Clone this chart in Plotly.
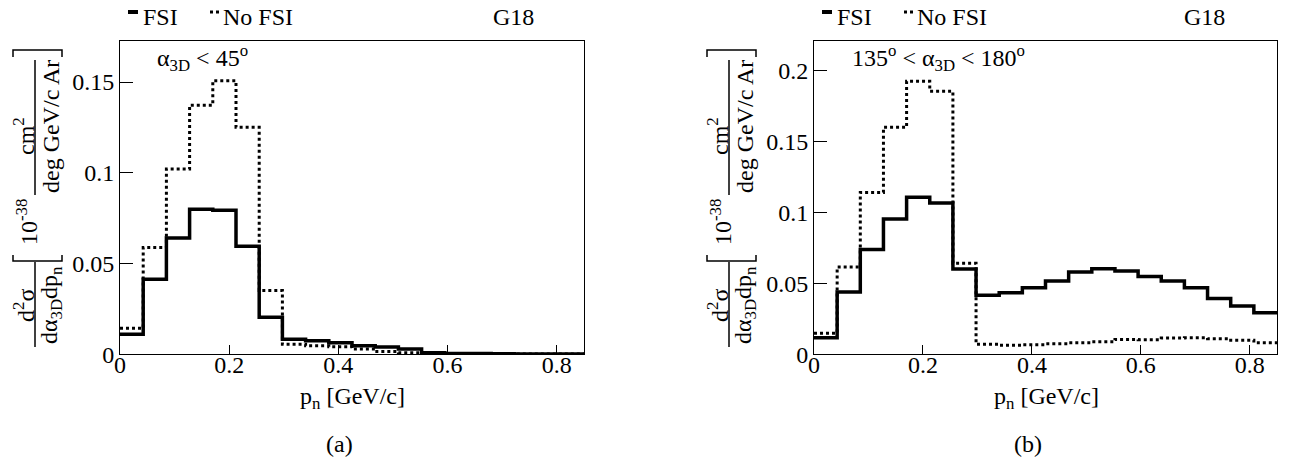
import plotly.graph_objects as go

W, H = 1289, 462
FONT = "Liberation Serif, Times New Roman, Times, serif"

# ---------------- data ----------------
bin_edges = [0.0, 0.0425, 0.085, 0.1275, 0.17, 0.2125, 0.255, 0.2975, 0.34, 0.3825,
             0.425, 0.4675, 0.51, 0.5525, 0.595, 0.6375, 0.68, 0.7225, 0.765, 0.8075, 0.85]

# panel (a): alpha_3D < 45 deg
a_fsi = [0.0110, 0.0413, 0.0641, 0.0799, 0.0794, 0.0595, 0.0204, 0.0083, 0.0075, 0.0064,
         0.0047, 0.0040, 0.0029, 0.0008, 0.0005, 0.0004, 0.0003, 0.0002, 0.0002, 0.0001]
a_nofsi = [0.0143, 0.0588, 0.1021, 0.1373, 0.1508, 0.1251, 0.0351, 0.0055, 0.0047, 0.0042,
           0.0029, 0.0015, 0.0009, 0.0004, 0.0003, 0.0002, 0.0002, 0.0001, 0.0001, 0.0001]

# panel (b): 135 < alpha_3D < 180 deg
b_fsi = [0.0117, 0.0439, 0.0737, 0.0953, 0.1105, 0.1065, 0.0601, 0.0415, 0.0434, 0.0469,
         0.0516, 0.0580, 0.0603, 0.0587, 0.0547, 0.0516, 0.0469, 0.0392, 0.0340, 0.0293]
b_nofsi = [0.0148, 0.0615, 0.1140, 0.1598, 0.1922, 0.1852, 0.0641, 0.0070, 0.0063, 0.0068,
           0.0075, 0.0082, 0.0089, 0.0105, 0.0103, 0.0115, 0.0117, 0.0110, 0.0099, 0.0082]

x_ticks = [0, 0.2, 0.4, 0.6, 0.8]
a_yticks = [0, 0.05, 0.1, 0.15]
b_yticks = [0, 0.05, 0.1, 0.15, 0.2]
a_yrange = [0, 0.1728]
b_yrange = [0, 0.2208]
x_range = [0, 0.85]

panel_labels = ["(a)", "(b)"]
cut_labels = ["α<sub>3D</sub> < 45<sup>o</sup>",
              "135<sup>o</sup> < α<sub>3D</sub> < 180<sup>o</sup>"]


def px(x):
    return x / W


def py(y):
    return 1 - y / H


fig = go.Figure()


def step(vals):
    return list(vals) + [vals[-1]]


panels = [
    dict(xa="x", ya="y", fsi=a_fsi, nofsi=a_nofsi),
    dict(xa="x2", ya="y2", fsi=b_fsi, nofsi=b_nofsi),
]
for p in panels:
    fig.add_trace(go.Scatter(x=bin_edges, y=step(p["nofsi"]), mode="lines",
                             line=dict(color="black", width=3, dash="dot", shape="hv"),
                             xaxis=p["xa"], yaxis=p["ya"], showlegend=False, name="No FSI",
                             hoverinfo="skip"))
    fig.add_trace(go.Scatter(x=bin_edges, y=step(p["fsi"]), mode="lines",
                             line=dict(color="black", width=3.5, shape="hv"),
                             xaxis=p["xa"], yaxis=p["ya"], showlegend=False, name="FSI",
                             hoverinfo="skip"))

tickfont = dict(family=FONT, size=24, color="black")
common_x = dict(range=x_range, tickvals=x_ticks, showgrid=False, zeroline=False,
                showline=True, linecolor="black", linewidth=1, mirror=True,
                ticks="inside", ticklen=9, tickwidth=1, tickcolor="black",
                tickfont=tickfont, ticklabelstandoff=-11)
common_y = dict(showgrid=False, zeroline=False, showline=True, linecolor="black",
                linewidth=1, mirror=True, ticks="inside", ticklen=13, tickwidth=1,
                tickcolor="black", tickfont=tickfont)

left_dom = [px(120), px(584)]
right_dom = [px(814), px(1277)]
y_dom = [py(354.3), py(40.7)]

fig.update_layout(
    width=W, height=H,
    margin=dict(l=0, r=0, t=0, b=0, autoexpand=False),
    paper_bgcolor="white", plot_bgcolor="white",
    showlegend=False, hovermode=False,
    xaxis=dict(domain=left_dom, anchor="y", **common_x),
    yaxis=dict(domain=y_dom, anchor="x", range=a_yrange, tickvals=a_yticks, **common_y),
    xaxis2=dict(domain=right_dom, anchor="y2", **common_x),
    yaxis2=dict(domain=y_dom, anchor="x2", range=b_yrange, tickvals=b_yticks, **common_y),
)

ann = []
shapes = []
tf = dict(family=FONT, size=24, color="black")

for i, off in enumerate([0, 694]):
    # legend
    shapes.append(dict(type="line", xref="paper", yref="paper",
                       x0=px(128 + off), x1=px(138 + off), y0=py(12), y1=py(12),
                       line=dict(color="black", width=4)))
    ann.append(dict(x=px(141 + off), y=py(17), xref="paper", yref="paper", text="FSI",
                    showarrow=False, xanchor="left", yanchor="middle", font=tf))
    shapes.append(dict(type="line", xref="paper", yref="paper",
                       x0=px(210 + off), x1=px(221 + off), y0=py(12), y1=py(12),
                       line=dict(color="black", width=3, dash="dot")))
    ann.append(dict(x=px(221 + off), y=py(17), xref="paper", yref="paper", text="No FSI",
                    showarrow=False, xanchor="left", yanchor="middle", font=tf))
    g18x = 491 if i == 0 else 1182
    ann.append(dict(x=px(g18x), y=py(17), xref="paper", yref="paper", text="G18",
                    showarrow=False, xanchor="left", yanchor="middle", font=tf))
    # cut label inside plot
    cx = 155 if i == 0 else 850
    ann.append(dict(x=px(cx), y=py(58), xref="paper", yref="paper", text=cut_labels[i],
                    showarrow=False, xanchor="left", yanchor="middle", font=tf))
    # x-axis title
    xc = (120 + 584) / 2 + off
    ann.append(dict(x=px(xc), y=py(398), xref="paper", yref="paper",
                    text="p<sub>n</sub> [GeV/c]", showarrow=False,
                    xanchor="center", yanchor="middle", font=tf))
    # subcaption
    sc = 339 if i == 0 else 1028
    ann.append(dict(x=px(sc), y=py(444), xref="paper", yref="paper", text=panel_labels[i],
                    showarrow=False, xanchor="center", yanchor="middle", font=tf))
    # y-axis title pieces (rotated)
    ann.append(dict(x=px(24 + off), y=py(306), xref="paper", yref="paper",
                    text="d<sup>2</sup>σ", textangle=-90, showarrow=False,
                    xanchor="center", yanchor="middle", font=tf))
    ann.append(dict(x=px(51 + off), y=py(305), xref="paper", yref="paper",
                    text="dα<sub>3D</sub>dp<sub>n</sub>", textangle=-90, showarrow=False,
                    xanchor="center", yanchor="middle", font=tf))
    ann.append(dict(x=px(27 + off), y=py(222), xref="paper", yref="paper",
                    text="10<sup>-38</sup>", textangle=-90, showarrow=False,
                    xanchor="center", yanchor="middle", font=tf))
    ann.append(dict(x=px(24 + off), y=py(136), xref="paper", yref="paper",
                    text="cm<sup>2</sup>", textangle=-90, showarrow=False,
                    xanchor="center", yanchor="middle", font=tf))
    ann.append(dict(x=px(51 + off), y=py(127), xref="paper", yref="paper",
                    text="deg GeV/c Ar", textangle=-90, showarrow=False,
                    xanchor="center", yanchor="middle", font=tf))
    # fraction bars
    shapes.append(dict(type="line", xref="paper", yref="paper",
                       x0=px(35 + off), x1=px(35 + off), y0=py(262), y1=py(347),
                       line=dict(color="black", width=1.5)))
    shapes.append(dict(type="line", xref="paper", yref="paper",
                       x0=px(35 + off), x1=px(35 + off), y0=py(60), y1=py(195),
                       line=dict(color="black", width=1.5)))
    # brackets
    shapes.append(dict(type="path", xref="paper", yref="paper",
                       path=f"M {px(13+off)},{py(255)} L {px(13+off)},{py(261)} "
                            f"L {px(62+off)},{py(261)} L {px(62+off)},{py(255)}",
                       line=dict(color="black", width=1.5)))
    shapes.append(dict(type="path", xref="paper", yref="paper",
                       path=f"M {px(13+off)},{py(57)} L {px(13+off)},{py(50)} "
                            f"L {px(62+off)},{py(50)} L {px(62+off)},{py(57)}",
                       line=dict(color="black", width=1.5)))

fig.update_layout(annotations=ann, shapes=shapes)
fig.write_html("out.html",
               config={"displayModeBar": False, "staticPlot": True},
               post_script="document.body.style.margin='0';"
                           "document.body.style.overflow='hidden';")
